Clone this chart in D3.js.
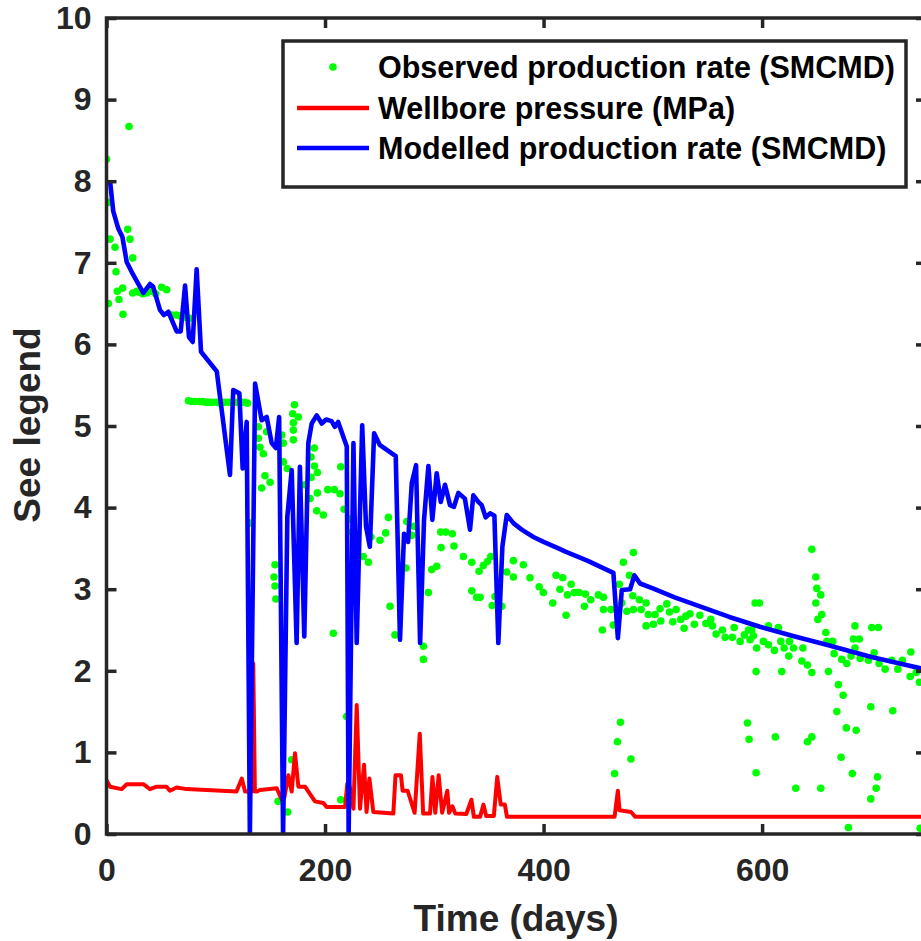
<!DOCTYPE html>
<html><head><meta charset="utf-8">
<script src="https://cdn.jsdelivr.net/npm/d3@7"></script>
<style>body{margin:0;background:#fff;} svg{display:block;font-family:"Liberation Sans",Arial,Helvetica,sans-serif;font-weight:bold;}</style>
</head><body>
<svg id="chart" width="921" height="941"></svg>
<script>
// ---------- DATA ----------
const xTicks = [0, 200, 400, 600];
const yTicks = [0,1,2,3,4,5,6,7,8,9,10];
const seriesNames = ["Observed production rate (SMCMD)", "Wellbore pressure (MPa)", "Modelled production rate (SMCMD)"];

// Observed production rate: [day, value]
const observed = [
 [0,8.27],[1.7,7.74],[3.2,7.29],[7.8,7.19],[8.7,6.89],[9.9,6.65],[11.4,6.55],[14.8,6.69],[15.1,6.37],[1.7,6.50],
 [20.6,8.67],[19.4,7.41],[21.5,7.29],[24,7.06],[24,6.63],[27.6,6.65],[30,6.64],[33,6.62],[36.8,6.63],[41.4,6.65],[45,6.62],
 [50.5,6.70],[55.1,6.67],[60,6.36],[64,6.36],[67,6.35],[70,6.34],[73,6.33],[76,6.32],
 [75,5.31],[78,5.30],[81,5.30],[85,5.30],[88,5.30],[91,5.29],[94,5.29],[97,5.29],[101,5.29],[104,5.28],[108,5.29],
 [112,5.29],[116,5.29],[119,5.29],[123,5.29],[126,5.29],[129,5.28],
 [131,3.81],[139,4.99],[139,4.85],[140.5,4.74],[142,4.24],[143.5,4.66],[145,4.39],[146.6,4.93],[149.7,4.31],
 [153.3,3.15],[154.2,3.30],[154.2,3.04],[155,2.88],[157,0.40],[160.4,4.89],[161.8,4.79],[161.8,4.56],[165.5,4.48],
 [165.8,0.27],[169.5,0.91],[170.4,5.15],[171,5.04],[171,4.95],[171,4.83],[172,5.26],[175.6,5.11],
 [181.7,4.28],[186.3,4.11],[187.2,4.62],[187.2,4.37],[190.2,4.73],[190.2,4.51],[193,4.43],[193,4.18],[192.4,3.96],
 [198.4,3.91],[202.5,4.22],[207.6,2.46],[208.5,4.22],[213.7,4.17],[214.4,4.50],[214.4,0.42],[217.5,3.98],[219.8,1.44],
 [222.2,3.86],[224.4,3.70],
 [235,3.40],[239.7,3.33],[242,3.64],[250.3,3.60],[255.5,3.69],[258,3.88],[259.5,2.79],[264,2.44],[274.8,3.83],[274,3.26],
 [279.4,3.66],[281.5,3.77],[287,3.21],[290,2.30],[290,2.14],[294.6,2.96],[297.7,3.24],[302.2,3.28],[305.9,3.70],[306.2,3.51],
 [310.5,3.70],[316.5,3.68],[318,3.53],[326.6,3.40],[334.3,3.33],[334.3,2.98],[338.8,2.90],[341.9,2.90],[341,3.22],[344.9,3.29],
 [348.6,3.34],[351.7,3.40],[353,2.80],[355.6,2.91],[361.7,2.79],[366.3,3.21],[372.4,3.35],[372.4,3.15],[381.5,3.30],[387.6,3.14],
 [396,3.03],[399.8,2.96],[408.4,2.83],[411.4,3.17],[415,3.00],[417.6,3.14],[420.6,2.68],[421.8,2.93],[425.2,3.06],[428.2,2.96],
 [432.5,2.96],[438.3,2.94],[437.4,2.79],[443.2,2.87],[450.2,2.93],[454.8,2.90],[454.8,2.75],[453.8,2.50],[461.7,2.75],[463.8,2.56],
 [465,0.74],[467.6,1.13],[469.4,3.06],[470.4,1.37],[471.6,2.83],[473,3.33],[476.2,2.73],[478.6,3.17],[480,0.92],[481.7,2.92],
 [482.2,3.45],[482.2,2.75],[487.7,2.87],[489.3,2.75],[493.8,2.83],[495.9,2.69],[493.8,2.55],[500.5,2.57],[502,2.69],[506.6,2.76],
 [507.3,2.61],[512.8,2.82],[515.2,2.72],[518.3,2.60],[521.3,2.75],[525.6,2.63],[528.6,2.52],[530.2,2.67],[534,2.70],[538,2.57],
 [543,2.68],[548.5,2.58],[553,2.63],[554.5,2.55],[557.9,2.45],[563.7,2.50],[566.2,2.41],[572.8,2.41],[574.4,2.53],[579.9,2.36],
 [583.8,2.44],[586.6,1.36],[587.5,2.50],[588.1,1.16],[589,2.38],[590.6,2.50],[592,2.43],[593.6,2.83],[594.5,1.99],[594.5,0.75],
 [595,2.28],[597.5,2.83],[601.2,2.36],[605.8,2.55],[605.8,2.32],[611.3,2.25],[612.1,1.19],[614.9,2.53],[617.1,2.36],[618,1.99],
 [620.2,2.28],[624.4,2.18],[625,2.36],[628.7,2.28],[630.8,0.56],[636.4,2.12],[637.3,2.28],[641.5,2.07],[641.5,1.13],[645.5,1.98],
 [645.5,3.49],[645.5,1.19],[649.2,3.15],[649.2,2.83],[650.1,3.01],[651,2.63],[653.7,2.93],[653.7,0.56],[654.6,2.69],[658.3,2.47],
 [659.3,2.36],[660.7,1.99],[664.7,2.36],[665.9,2.21],[668.4,1.50],[669.8,1.83],[672.3,0.94],[672.9,2.14],[674.2,1.70],[677.1,1.30],
 [677.5,2.09],[679,0.08],[681.4,2.18],[682.6,0.74],[683.6,2.39],[685,2.55],[685,2.28],[686.1,1.27],[689,2.39],[689.7,2.15],
 [697.3,2.13],[699.5,1.56],[699.5,0.43],[700.4,2.53],[702.5,2.22],[704.4,0.56],[705.6,0.70],[706.4,2.53],[707.1,2.09],[712.6,2.02],
 [718.7,2.13],[719.6,1.51],[724.2,2.02],[728.4,2.13],[735.5,1.93],[736.1,2.23],[741,1.98],[744,1.86],[744.6,0.07]
];

// Wellbore pressure: [day, MPa]
const pressure = [
 [0,0.66],[3.2,0.58],[13.9,0.55],[18.5,0.61],[33.7,0.61],[39.8,0.55],[46,0.58],[55,0.58],[58,0.53],[64.2,0.57],[73.4,0.55],
 [119,0.52],[123.8,0.68],[126.8,0.52],[133,0.52],[134.3,2.09],[135.8,0.52],[137.5,0.52],[140.5,0.54],[155.8,0.56],[160.4,0.42],
 [162.8,0.45],[166.4,0.72],[169.5,0.52],[172.5,0.99],[175.6,0.58],[181.7,0.58],[190.8,0.40],[198.5,0.38],[201.5,0.33],[218.3,0.33],
 [220.4,0.62],[222,0.62],[226,0.31],[229,1.58],[232,0.31],[235.7,0.85],[238,0.27],[240.6,0.68],[244.2,0.27],[262.5,0.25],
 [264.5,0.72],[269.5,0.72],[271,0.53],[275.6,0.53],[282,0.26],[286.7,1.23],[289.8,0.25],[296.1,0.25],[298.3,0.70],[300.9,0.26],
 [304,0.72],[307.2,0.26],[311.9,0.53],[313.5,0.26],[316.6,0.34],[319.2,0.25],[329.3,0.245],[334,0.42],[336.2,0.21],[341.9,0.21],
 [345,0.36],[347.5,0.22],[354.5,0.22],[357.6,0.70],[360.8,0.36],[364.6,0.36],[366.5,0.21],[465,0.21],[468,0.53],[469.5,0.29],
 [480,0.27],[484,0.21],[750,0.21]
];

// Modelled production rate: [day, value]
const modelled = [
 [3.2,8.01],[6.2,7.63],[10.8,7.42],[14.5,7.32],[18.5,7.01],[23,6.89],[33.7,6.63],[39.8,6.74],[42.6,6.71],[49,6.42],
 [52.6,6.36],[56.6,6.40],[64.2,6.16],[67.9,6.16],[71.9,6.72],[75.5,6.09],[78.9,6.03],[82.5,6.92],[86.5,5.91],[100.9,5.67],
 [113,4.40],[116,5.44],[121.6,5.40],[124.6,4.48],[128.3,5.05],[131.2,0],[136,5.52],[142,5.07],[146.6,5.11],[151.2,4.79],
 [155,4.73],[158,5.11],[161.6,0],[165.5,3.89],[169.5,4.46],[174,2.34],[177,4.50],[181,2.42],[184.7,4.79],[187.8,5.03],
 [192.4,5.13],[197,5.03],[201,5.08],[206,5.06],[209,4.99],[212,5.05],[219.9,4.75],[221.6,0],[226,4.79],[229,2.34],
 [234,5.01],[237.5,3.77],[241,3.52],[244.9,4.91],[250,4.77],[264.7,4.63],[268.6,2.38],[272.3,3.68],[276,3.58],[279.4,4.30],
 [283.3,4.52],[287,2.34],[290.6,3.85],[294.6,4.51],[298.2,3.85],[302.2,4.42],[305.9,4.07],[309.8,4.28],[314.4,4.03],[318,4.01],
 [322,4.18],[328,4.11],[332.7,3.73],[335.7,4.15],[340.3,4.07],[343.4,4.03],[347,3.88],[351,3.93],[355,3.90],[358.6,2.34],
 [362.3,3.52],[366.3,3.91],[372.4,3.81],[380,3.73],[390.7,3.64],[400,3.58],[413.6,3.50],[420,3.46],[440,3.35],[463.9,3.20],
 [468,2.40],[471.6,2.99],[479.2,3.00],[483.1,3.17],[488.3,3.07],[500,3.01],[520,2.90],[543,2.79],[570,2.66],[598,2.54],
 [630,2.42],[659,2.32],[700,2.17],[745,2.03],[750,2.01]
];

// ---------- LAYOUT ----------
const plotL = 106.5, plotR = 926, plotT = 18, plotB = 834;
const svg = d3.select("#chart");
const x = d3.scaleLinear().domain([0, 750]).range([plotL, plotR]);
const y = d3.scaleLinear().domain([0, 10]).range([plotB, plotT]);
const axisColor = "#262626";

svg.append("defs").append("clipPath").attr("id","clip")
  .append("rect").attr("x", plotL).attr("y", plotT).attr("width", plotR-plotL).attr("height", plotB-plotT);

const plot = svg.append("g").attr("clip-path","url(#clip)");

// observed dots
plot.append("g").selectAll("circle").data(observed).join("circle")
  .attr("cx", d => x(d[0])).attr("cy", d => y(d[1])).attr("r", 3.8).attr("fill", "#00ff00");

const line = d3.line().x(d => x(d[0])).y(d => y(d[1]));
plot.append("path").datum(pressure).attr("d", line).attr("fill","none")
  .attr("stroke","#ff0000").attr("stroke-width",4).attr("stroke-linejoin","round");
plot.append("path").datum(modelled).attr("d", line).attr("fill","none")
  .attr("stroke","#0000ff").attr("stroke-width",4.6).attr("stroke-linejoin","round");

// axes
function styleAxis(g){
  g.select(".domain").remove();
  g.selectAll(".tick line").attr("stroke", axisColor).attr("stroke-width", 3.5);
  g.selectAll(".tick text").attr("fill", axisColor).style("font-size","32px").style("font-weight","bold")
    .style("font-family",'"Liberation Sans",Arial,Helvetica,sans-serif');
}
svg.append("g").attr("transform",`translate(0,${plotB})`)
  .call(d3.axisBottom(x).tickValues(xTicks).tickSizeInner(-10).tickSizeOuter(0).tickPadding(24))
  .call(styleAxis);
svg.append("g").attr("transform",`translate(0,${plotT})`)
  .call(d3.axisTop(x).tickValues(xTicks).tickSizeInner(-10).tickSizeOuter(0).tickFormat(""))
  .call(styleAxis);
svg.append("g").attr("transform",`translate(${plotL},0)`)
  .call(d3.axisLeft(y).tickValues(yTicks).tickSizeInner(-10).tickSizeOuter(0).tickPadding(15))
  .call(styleAxis);
svg.append("g").attr("transform",`translate(${plotR},0)`)
  .call(d3.axisRight(y).tickValues(yTicks).tickSizeInner(-10).tickSizeOuter(0).tickFormat(""))
  .call(styleAxis);

// box
svg.append("rect").attr("x", plotL).attr("y", plotT).attr("width", plotR-plotL).attr("height", plotB-plotT)
  .attr("fill","none").attr("stroke", axisColor).attr("stroke-width", 3.5);

// axis labels
svg.append("text").attr("x", 516).attr("y", 931).attr("text-anchor","middle")
  .attr("fill", axisColor).style("font-size","37px").text("Time (days)");
svg.append("text").attr("transform","translate(40,425) rotate(-90)").attr("text-anchor","middle")
  .attr("fill", axisColor).style("font-size","37px").text("See legend");

// legend
const lg = svg.append("g");
lg.append("rect").attr("x", 283).attr("y", 41).attr("width", 623).attr("height", 146)
  .attr("fill","#fff").attr("stroke", axisColor).attr("stroke-width", 3.5);
const rows = [67, 108, 148];
lg.append("circle").attr("cx", 333).attr("cy", rows[0]).attr("r", 3.8).attr("fill", "#00ff00");
lg.append("line").attr("x1", 297).attr("x2", 369).attr("y1", rows[1]).attr("y2", rows[1])
  .attr("stroke","#ff0000").attr("stroke-width",4.5);
lg.append("line").attr("x1", 297).attr("x2", 369).attr("y1", rows[2]).attr("y2", rows[2])
  .attr("stroke","#0000ff").attr("stroke-width",4.5);
lg.selectAll("text.lab").data(seriesNames).join("text").attr("class","lab")
  .attr("x", 378).attr("y", (d,i) => rows[i]).attr("dy","0.36em")
  .attr("fill","#000").style("font-size","30.5px").text(d => d);
</script>
</body></html>
